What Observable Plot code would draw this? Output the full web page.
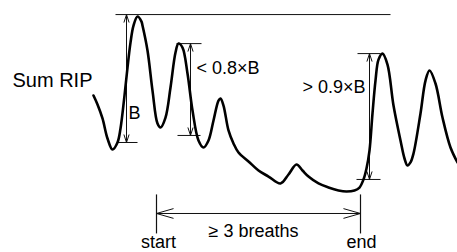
<!DOCTYPE html>
<html><head><meta charset="utf-8">
<script src="https://cdn.jsdelivr.net/npm/d3@7"></script>
<script src="https://cdn.jsdelivr.net/npm/@observablehq/plot@0.6"></script>
<style>
html,body{margin:0;padding:0;background:#fff;}
#chart svg{display:block;}
</style></head><body><div id="chart"></div>
<script>
// Sum RIP trace: time (s) and amplitude (units of B)
const time = [9.3, 9.7, 10.2, 10.7, 11.2, 11.7, 12.0, 12.4, 12.7, 13.0, 13.3, 13.7, 14.1, 14.2, 14.7, 15.2, 15.7, 16.0, 16.5, 17.0, 17.5, 17.8, 18.2, 18.7, 19.2, 19.8, 20.3, 20.8, 21.3, 21.8, 22.0, 22.3, 22.8, 23.3, 23.8, 24.8, 25.8, 26.8, 28.0, 28.8, 29.6, 30.2, 30.8, 31.8, 32.8, 33.8, 34.6, 35.4, 35.9, 36.3, 36.6, 36.9, 37.2, 37.5, 37.8, 38.2, 38.7, 39.3, 40.0, 40.4, 40.7, 41.0, 41.3, 42.0, 42.5, 42.9, 43.5, 44.2, 45.0, 45.7];
const sumRip = [0.367, 0.297, 0.188, 0.031, -0.055, 0.0, 0.109, 0.367, 0.586, 0.781, 0.914, 0.985, 0.945, 0.914, 0.719, 0.406, 0.148, 0.117, 0.195, 0.430, 0.703, 0.773, 0.742, 0.539, 0.250, 0.016, -0.039, 0.016, 0.172, 0.328, 0.344, 0.289, 0.094, -0.008, -0.078, -0.148, -0.219, -0.266, -0.320, -0.250, -0.172, -0.219, -0.266, -0.320, -0.352, -0.375, -0.383, -0.375, -0.352, -0.289, -0.203, -0.063, 0.227, 0.484, 0.648, 0.695, 0.609, 0.289, 0.016, -0.125, -0.180, -0.156, -0.086, 0.227, 0.484, 0.563, 0.461, 0.195, -0.039, -0.156];

// Breath amplitude markers (B, <0.8xB, >0.9xB)
const ampX = [12.6, 19.0, 36.9];
const ampTop = [1.0, 0.773, 0.695];
const ampBottom = [0.0, 0.055, -0.289];
const topFrom = [11.5, 17.6, 35.7];
const topTo = [39.0, 20.1, 38.0];
const bottomFrom = [11.7, 17.7, 35.6];
const bottomTo = [13.7, 20.0, 38.0];

// Event start / end
const eventStart = 15.6;
const eventEnd = 36.0;
const eventArrowY = -0.555;
const eventTickTop = -0.406;
const eventTickBottom = -0.711;

// Labels
const labelText = ["B", "< 0.8×B", "> 0.9×B", "≥ 3 breaths", "start", "end"];
const labelX = [12.8, 19.6, 30.2, 20.8, 15.8, 36.1];
const labelY = [0.1875, 0.539, 0.383, -0.742, -0.828, -0.828];
const labelAnchor = ["start", "start", "start", "start", "middle", "middle"];
const titleText = "Sum RIP";
const titleX = 1.2;
const titleY = 0.4375;

const curve = time.map((t, i) => ({t, v: sumRip[i]}));
const levels = [];
ampX.forEach((x, i) => {
  levels.push({x1: topFrom[i], x2: topTo[i], y: ampTop[i]});
  levels.push({x1: bottomFrom[i], x2: bottomTo[i], y: ampBottom[i]});
});
const vArrows = [];
ampX.forEach((x, i) => {
  const mid = (ampTop[i] + ampBottom[i]) / 2;
  vArrows.push({x1: x, y1: mid, x2: x, y2: ampTop[i]});
  vArrows.push({x1: x, y1: mid, x2: x, y2: ampBottom[i]});
});
const midX = (eventStart + eventEnd) / 2;
const hArrows = [
  {x1: midX, x2: eventStart, y: eventArrowY},
  {x1: midX, x2: eventEnd, y: eventArrowY}
];
const ticks = [eventStart, eventEnd].map(x => ({x, y1: eventTickTop, y2: eventTickBottom}));
const labels = labelText.map((s, i) => ({s, x: labelX[i], y: labelY[i], a: labelAnchor[i]}));

const font = "'Liberation Sans', Arial, Helvetica, sans-serif";
const plot = Plot.plot({
  width: 457, height: 252, margin: 0,
  x: {domain: [0, 45.7], axis: null},
  y: {domain: [-0.86, 1.11], axis: null},
  style: {fontFamily: font, background: "#fff", color: "#000"},
  marks: [
    Plot.link(levels, {x1: "x1", x2: "x2", y1: "y", y2: "y", stroke: "#111", strokeWidth: 1}),
    Plot.arrow(vArrows, {x1: "x1", y1: "y1", x2: "x2", y2: "y2", stroke: "#111", strokeWidth: 1, headLength: 12, headAngle: 36}),
    Plot.arrow(hArrows, {x1: "x1", y1: "y", x2: "x2", y2: "y", stroke: "#111", strokeWidth: 1, headLength: 26, headAngle: 32}),
    Plot.link(ticks, {x1: "x", x2: "x", y1: "y1", y2: "y2", stroke: "#111", strokeWidth: 1.2}),
    Plot.line(curve, {x: "t", y: "v", stroke: "#000", strokeWidth: 2.6, curve: "catmull-rom"}),
    Plot.text(labels.filter(d => d.a === "start"), {x: "x", y: "y", text: "s", textAnchor: "start", lineAnchor: "bottom", fontSize: 18, fill: "#000"}),
    Plot.text(labels.filter(d => d.a === "middle"), {x: "x", y: "y", text: "s", textAnchor: "middle", lineAnchor: "bottom", fontSize: 18, fill: "#000"}),
    Plot.text([titleText], {x: () => titleX, y: () => titleY, text: d => d, textAnchor: "start", lineAnchor: "bottom", fontSize: 20, fill: "#000"})
  ]
});
document.getElementById("chart").append(plot);
</script></body></html>
